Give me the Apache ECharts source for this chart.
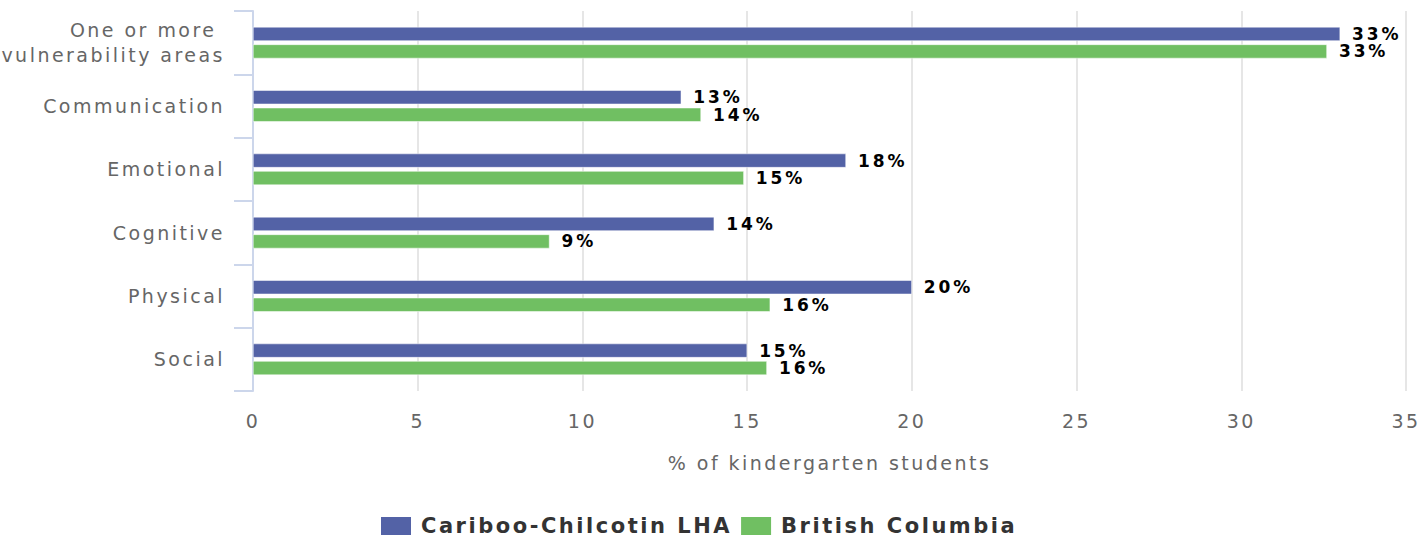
<!DOCTYPE html>
<html>
<head>
<meta charset="utf-8">
<script src="https://cdn.jsdelivr.net/npm/echarts@6/dist/echarts.min.js"></script>
<style>
  html, body { margin: 0; padding: 0; background: #fff; }
  #chart { width: 1422px; height: 542px; }
  #chart text { white-space: pre; letter-spacing: 0.13em; }
  #chart text[style*="bold"], #chart text[font-weight="bold"] { letter-spacing: 0.17em; }
  #chart text[style*="bold"][style*="21px"], #chart text[font-weight="bold"][font-size="21px"] { letter-spacing: 0.12em; }
</style>
</head>
<body>
<div id="chart"></div>
<script>
const categories = ["One or more vulnerability areas", "Communication", "Emotional", "Cognitive", "Physical", "Social"];
const seriesNames = ["Cariboo-Chilcotin LHA", "British Columbia"];
const caribooValues = [33.0, 13.0, 18.0, 14.0, 20.0, 15.0];
const bcValues = [32.6, 13.6, 14.9, 9.0, 15.7, 15.6];
const xAxisTitle = "% of kindergarten students";

const FONT = "'DejaVu Sans', sans-serif";
const chart = echarts.init(document.getElementById('chart'), null, { renderer: 'svg' });

const labelCfg = {
  show: true,
  position: 'right',
  distance: 12,
  color: '#000',
  fontWeight: 'bold',
  fontSize: 17,
  lineHeight: 15,
  fontFamily: FONT,
  formatter: p => Math.round(p.value) + '%'
};

chart.setOption({
  animation: false,
  backgroundColor: '#ffffff',
  grid: { left: 253, right: 16, top: 11, bottom: 151, containLabel: false },
  xAxis: {
    type: 'value',
    min: 0, max: 35, interval: 5,
    name: xAxisTitle,
    nameLocation: 'middle',
    nameGap: 62,
    nameTextStyle: { color: '#666666', fontSize: 19, fontFamily: FONT },
    axisLine: { show: false },
    axisTick: { show: false },
    axisLabel: { color: '#666666', fontSize: 19, fontFamily: FONT, margin: 20 },
    splitLine: { show: true, lineStyle: { color: '#e6e6e6', width: 2 } }
  },
  yAxis: {
    type: 'category',
    data: categories,
    inverse: true,
    axisLine: { show: true, lineStyle: { color: '#ccd6eb', width: 2 } },
    axisTick: { show: true, length: 19, lineStyle: { color: '#ccd6eb', width: 2 } },
    axisLabel: {
      color: '#666666', fontSize: 19, fontFamily: FONT, margin: 28, lineHeight: 25,
      formatter: v => v === "One or more vulnerability areas" ? "One or more \nvulnerability areas" : v
    },
    splitLine: { show: false }
  },
  legend: {
    left: 374,
    top: 510,
    itemWidth: 32,
    itemHeight: 20,
    itemGap: 60,
    icon: 'rect',
    textStyle: { color: '#333333', fontSize: 21, fontWeight: 'bold', fontFamily: FONT, padding: [0, 0, 0, 4] },
    data: seriesNames
  },
  series: [
    {
      name: seriesNames[0], type: 'bar', data: caribooValues,
      barWidth: 14, barGap: '25%',
      itemStyle: { color: '#5362a6', borderColor: '#ffffff', borderWidth: 0.5 },
      label: labelCfg
    },
    {
      name: seriesNames[1], type: 'bar', data: bcValues,
      barWidth: 14, barGap: '25%',
      itemStyle: { color: '#70bf62', borderColor: '#ffffff', borderWidth: 0.5 },
      label: labelCfg
    }
  ]
});
</script>
</body>
</html>
